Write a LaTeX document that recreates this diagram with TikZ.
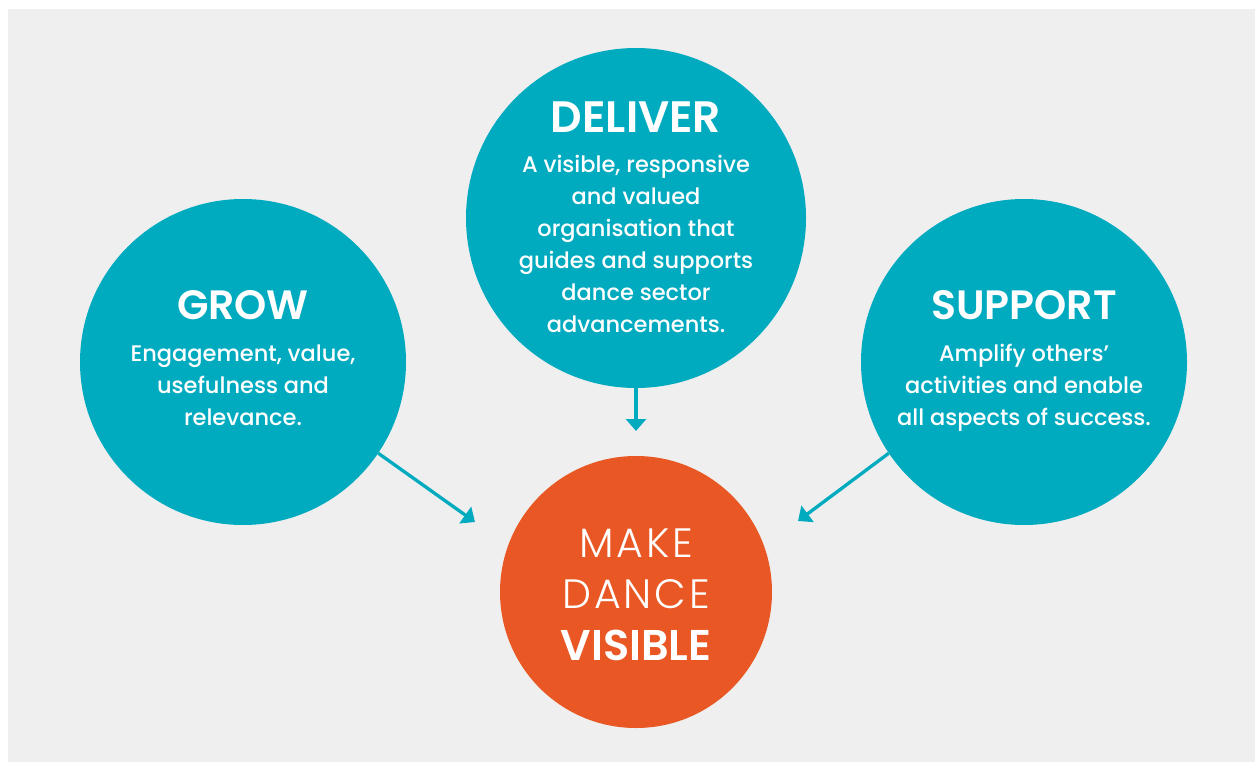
\documentclass[tikz,border=0pt]{standalone}
\usepackage{fontspec}
\setmainfont{Poppins}
\newfontfamily\lightfont{Poppins Light}[LetterSpace=7]
\newfontfamily\mediumfont{Poppins Medium}
\newfontfamily\semifont{Poppins SemiBold}
\usepackage{tikz}
\usetikzlibrary{arrows.meta}
\definecolor{bgray}{HTML}{EFEFEF}
\definecolor{dteal}{HTML}{00AABF}
\definecolor{dorange}{HTML}{E95824}
\tikzset{>={Triangle[width=20pt,length=12pt]}}

\begin{document}
\begin{tikzpicture}[x=1pt,y=-1pt,
    disc/.style={circle,fill=dteal,inner sep=0pt},
    title/.style={text=white,font=\semifont\fontsize{41}{41}\selectfont,anchor=base,inner sep=0pt},
    body/.style={text=white,font=\mediumfont\fontsize{22.5}{32}\selectfont,align=center,anchor=base,inner sep=0pt},
    link/.style={->,dteal,line width=3.3pt}]
  \fill[white] (0,0) rectangle (1255,762);
  \fill[bgray] (8,9) rectangle (1255,762);
  \useasboundingbox (0,0) rectangle (1255,762);
  % circles
  \node[disc,minimum size=340pt] (deliver) at (636,218) {};
  \node[disc,minimum size=326pt] (grow) at (243,362) {};
  \node[disc,minimum size=326pt] (support) at (1024,362) {};
  \node[disc,fill=dorange,minimum size=272pt] (visible) at (636,592) {};
  % texts (base = last line)
  \node[title,font=\semifont\fontsize{44}{44}\selectfont] (deliver-title) at (636,133) {DELIVER};
  \node[body] (deliver-text) at (636,332) {A visible, responsive\\and valued\\organisation that\\guides and supports\\dance sector\\advancements.};
  \node[title] (grow-title) at (243,319) {GROW};
  \node[body] (grow-text) at (243,425) {Engagement, value,\\usefulness and\\relevance.};
  \node[title] (support-title) at (1024,319) {SUPPORT};
  \node[body] (support-text) at (1024,425) {Amplify others’\\activities and enable\\all aspects of success.};
  \node[body,font=\lightfont\fontsize{41}{51}\selectfont] (make-text) at (636,608) {MAKE\\DANCE};
  \node[title,font=\semifont\fontsize{43}{43}\selectfont] (visible-title) at (636,660) {VISIBLE};
  % arrows
  \coordinate (deliver-tip) at (636,431);
  \coordinate (grow-tip) at (475,522);
  \coordinate (support-tip) at (798,521);
  \draw[link] (deliver.south) -- (deliver-tip);
  \draw[link] (grow.-34) -- (grow-tip);
  \draw[link] (support.214) -- (support-tip);
\end{tikzpicture}
\end{document}
